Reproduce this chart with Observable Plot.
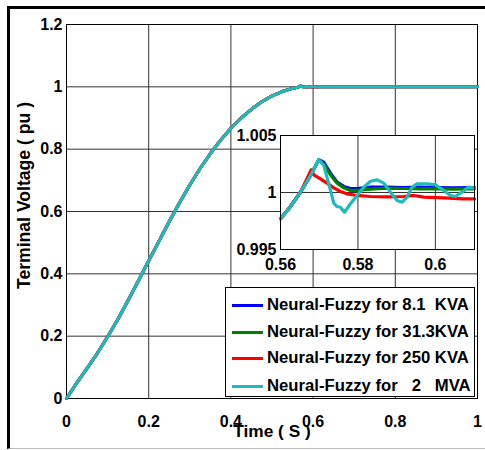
<!DOCTYPE html>
<html><head><meta charset="utf-8">
<script src="https://cdn.jsdelivr.net/npm/d3@7"></script>
<script src="https://cdn.jsdelivr.net/npm/@observablehq/plot@0.6"></script>
<style>
body{margin:0;background:#fff;}
#wrap{position:relative;width:485px;height:450px;overflow:hidden;font-family:"Liberation Sans",Arial,sans-serif;}
#wrap svg{position:absolute;}
#outer{position:absolute;left:7px;top:6px;width:480px;height:439px;border-left:3px solid #000;border-top:3px solid #000;border-bottom:1px solid #bbb;pointer-events:none;}
#legend{position:absolute;left:225px;top:287px;width:250px;height:110px;border:1px solid #000;background:#fff;box-sizing:border-box;}
.sw{position:absolute;left:6px;width:31px;height:3px;}
.lt{position:absolute;left:41px;font-weight:bold;font-size:16.7px;white-space:pre;line-height:20px;color:#000;}
</style></head><body><div id="wrap"></div>
<script>
// series
const seriesNames = ["8.1 KVA", "31.3 KVA", "250 KVA", "2 MVA"];
const seriesColors = ["#0000ff", "#008000", "#ff0000", "#1cbcbc"];
const legendLabels = ["Neural-Fuzzy for 8.1  KVA", "Neural-Fuzzy for 31.3KVA", "Neural-Fuzzy for 250 KVA", "Neural-Fuzzy for   2   MVA"];

// axis ticks / titles
const xTicks = [0, 0.2, 0.4, 0.6, 0.8, 1];
const yTicks = [0, 0.2, 0.4, 0.6, 0.8, 1, 1.2];
const xGrid = [0.2, 0.4, 0.6, 0.8];
const yGrid = [0.2, 0.4, 0.6, 0.8, 1];
const xTitle = ["Time ( S )"];
const yTitle = ["Terminal Voltage ( pu )"];
const insetXTicks = [0.56, 0.58, 0.6];
const insetYTicks = [0.995, 1, 1.005];
const insetXGrid = [0.58, 0.6];
const insetYGrid = [1];

// common rise (0 .. 0.565 s)
const rampT = [0, 0.025, 0.05, 0.075, 0.1, 0.125, 0.15, 0.175, 0.2, 0.225, 0.25, 0.275, 0.3, 0.325, 0.35, 0.375, 0.4, 0.425, 0.45, 0.475, 0.5, 0.525, 0.55, 0.56, 0.56258, 0.56516];
const rampV = [0, 0.05, 0.097, 0.145, 0.198, 0.254, 0.315, 0.378, 0.442, 0.505, 0.568, 0.628, 0.685, 0.738, 0.786, 0.829, 0.867, 0.9, 0.928, 0.952, 0.971, 0.985, 0.995, 0.99769, 0.99877, 1.00003];

// per-series detail (0.565 .. 0.61 s)
const blueT = [0.56774, 0.56989, 0.57118, 0.5729, 0.57462, 0.57634, 0.57806, 0.57978, 0.58323, 0.5875, 0.5918, 0.5961, 0.6004, 0.6047, 0.6101];
const blueV = [1.00149, 1.00287, 1.00265, 1.0017, 1.00091, 1.00053, 1.00035, 1.00035, 1.00047, 1.00047, 1.00044, 1.00047, 1.00044, 1.00041, 1.00044];
const greenT = [0.56774, 0.56989, 0.57118, 0.5729, 0.57462, 0.57634, 0.57806, 0.57978, 0.58323, 0.58753, 0.59183, 0.59613, 0.60043, 0.60473, 0.6101];
const greenV = [1.00149, 1.00287, 1.00251, 1.00155, 1.00082, 1.00041, 1.00018, 1.00018, 1.00029, 1.00038, 1.00035, 1.00032, 1.00032, 1.00029, 1.00032];
const redT = [0.56791, 0.5686, 0.57032, 0.57204, 0.57376, 0.57548, 0.5772, 0.57978, 0.58323, 0.58753, 0.59183, 0.59441, 0.597, 0.60215, 0.60731, 0.6101];
const redV = [1.00199, 1.00155, 1.0012, 1.00082, 1.00041, 1.00009, 0.99988, 0.99974, 0.99965, 0.99962, 0.99965, 0.99974, 0.99959, 0.99953, 0.99944, 0.99944];
const cyanT = [0.56774, 0.56989, 0.57118, 0.57247, 0.57376, 0.57462, 0.57548, 0.57652, 0.57806, 0.57978, 0.5815, 0.58323, 0.58495, 0.58667, 0.58839, 0.59011, 0.5914, 0.59269, 0.59398, 0.59527, 0.59785, 0.6, 0.60215, 0.60387, 0.60516, 0.60688, 0.6086, 0.6101];
const cyanV = [1.00149, 1.00287, 1.00237, 1.00076, 0.99906, 0.99877, 0.99871, 0.99827, 0.99901, 0.99974, 1.00047, 1.00099, 1.00111, 1.00082, 1.00003, 0.9993, 0.99915, 0.99959, 1.00047, 1.00076, 1.00076, 1.00067, 1.00018, 0.99974, 0.99965, 1.00003, 1.00047, 1.00038];

// steady state (after 0.61 s)
const plateauT = [0.62, 0.7, 0.8, 0.9, 1.0];
const plateauV = [1, 1, 1, 1, 1];

const detailT = [blueT, greenT, redT, cyanT];
const detailV = [blueV, greenV, redV, cyanV];

const rows = [];
seriesNames.forEach((s, i) => {
  rampT.forEach((t, j) => rows.push({series: s, t, v: rampV[j]}));
  detailT[i].forEach((t, j) => rows.push({series: s, t, v: detailV[i][j]}));
  plateauT.forEach((t, j) => rows.push({series: s, t, v: plateauV[j]}));
});

const font = "Liberation Sans, Arial, sans-serif";
const color = {domain: seriesNames, range: seriesColors};
const fmt = d => String(d);

const main = Plot.plot({
  width: 485, height: 450,
  marginLeft: 66, marginRight: 8, marginTop: 24, marginBottom: 52,
  style: {fontFamily: font, fontSize: "16px", fontWeight: "bold", background: "transparent", color: "#000"},
  x: {domain: [0, 1], ticks: xTicks, tickFormat: fmt, tickSize: 0, tickPadding: 17, label: null},
  y: {domain: [0, 1.2], ticks: yTicks, tickFormat: fmt, tickSize: 0, tickPadding: 4, label: null},
  color,
  marks: [
    Plot.ruleX(xGrid, {stroke: "#333", strokeWidth: 1}),
    Plot.ruleY(yGrid, {stroke: "#333", strokeWidth: 1}),
    Plot.frame({stroke: "#000", strokeWidth: 1}),
    Plot.line(rows, {x: "t", y: "v", z: "series", stroke: "series", strokeWidth: 3}),
    Plot.text(xTitle, {text: d => d, frameAnchor: "bottom", dy: 38, textAnchor: "middle", fontSize: 17.3, fontWeight: "bold"}),
    Plot.text(yTitle, {text: d => d, frameAnchor: "left", rotate: -90, dx: -42, dy: -16, textAnchor: "middle", fontSize: 17.6, fontWeight: "bold"})
  ]
});
main.style.left = "0px"; main.style.top = "0px";

const insetRows = rows.filter(d => d.t >= 0.56 && d.t <= 0.6102);
const inset = Plot.plot({
  width: 248, height: 150,
  marginLeft: 50, marginRight: 4, marginTop: 8, marginBottom: 28,
  style: {fontFamily: font, fontSize: "16px", fontWeight: "bold", background: "transparent", color: "#000"},
  x: {domain: [0.56, 0.6101], ticks: insetXTicks, tickFormat: fmt, tickSize: 0, tickPadding: 9, label: null},
  y: {domain: [0.995, 1.005], ticks: insetYTicks, tickFormat: fmt, tickSize: 0, tickPadding: 4, label: null},
  color,
  marks: [
    Plot.frame({fill: "#fff", stroke: "none"}),
    Plot.ruleX(insetXGrid, {stroke: "#333", strokeWidth: 1}),
    Plot.ruleY(insetYGrid, {stroke: "#333", strokeWidth: 1}),
    Plot.line(insetRows, {x: "t", y: "v", z: "series", stroke: "series", strokeWidth: 3.2}),
    Plot.frame({stroke: "#000", strokeWidth: 1})
  ]
});
inset.style.left = "230px"; inset.style.top = "127px";

const wrap = document.getElementById("wrap");
wrap.appendChild(main);
wrap.appendChild(inset);

const legend = document.createElement("div");
legend.id = "legend";
const rowCenters = [17, 44, 70, 98];
legendLabels.forEach((lab, i) => {
  const sw = document.createElement("div");
  sw.className = "sw";
  sw.style.top = (rowCenters[i] - 1.5) + "px";
  sw.style.background = seriesColors[i];
  legend.appendChild(sw);
  const tx = document.createElement("div");
  tx.className = "lt";
  tx.style.top = (rowCenters[i] - 10) + "px";
  tx.textContent = lab;
  legend.appendChild(tx);
});
wrap.appendChild(legend);

const outer = document.createElement("div");
outer.id = "outer";
wrap.appendChild(outer);
</script></body></html>
